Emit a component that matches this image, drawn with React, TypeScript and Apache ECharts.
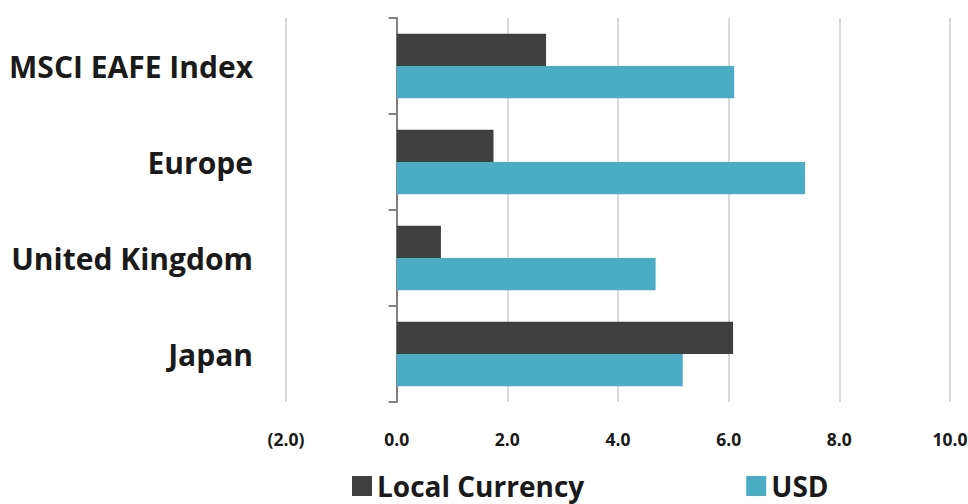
import React, { useEffect, useRef } from "react";
import * as echarts from "echarts";

const categories = ["MSCI EAFE Index", "Europe", "United Kingdom", "Japan"];
const localCurrency = [2.7, 1.75, 0.8, 6.08];
const usd = [6.1, 7.38, 4.68, 5.17];
const seriesNames = ["Local Currency", "USD"];

const FONT = "'Open Sans', 'Noto Sans', sans-serif";

export default function App() {
  const ref = useRef<HTMLDivElement>(null);
  useEffect(() => {
    if (!ref.current) return;
    const chart = echarts.init(ref.current, undefined, { renderer: "svg" });
    chart.setOption({
      animation: false,
      textStyle: { fontFamily: FONT },
      grid: { left: 286, right: 18, top: 18, bottom: 102, containLabel: false, outerBoundsMode: "none" },
      legend: {
        data: seriesNames,
        left: 347,
        top: 466,
        itemWidth: 20,
        itemHeight: 20,
        itemGap: 162,
        icon: "rect",
        textStyle: { fontSize: 28, fontWeight: "bold", color: "#1a1a1a", fontFamily: FONT, lineHeight: 30 },
      },
      xAxis: {
        type: "value",
        min: -2,
        max: 10,
        interval: 2,
        axisLine: { show: false },
        axisTick: { show: false },
        splitLine: { lineStyle: { color: "#d9d9d9", width: 2 } },
        axisLabel: {
          margin: 28,
          fontSize: 17.5,
          fontWeight: "bold",
          color: "#1a1a1a",
          fontFamily: FONT,
          formatter: (v: number) => (v < 0 ? `(${Math.abs(v).toFixed(1)})` : v.toFixed(1)),
        },
      },
      yAxis: {
        type: "category",
        data: categories,
        inverse: true,
        axisLine: { onZero: true, lineStyle: { color: "#808080", width: 2 } },
        axisTick: { show: true, length: 8, lineStyle: { color: "#808080", width: 2 } },
        axisLabel: {
          margin: 33,
          fontSize: 30,
          fontWeight: "bold",
          color: "#1a1a1a",
          fontFamily: FONT,
        },
        splitLine: { show: false },
      },
      series: [
        {
          name: seriesNames[0],
          type: "bar",
          data: localCurrency,
          itemStyle: { color: "#404040" },
          barGap: "0%",
          barCategoryGap: "33%",
        },
        {
          name: seriesNames[1],
          type: "bar",
          data: usd,
          itemStyle: { color: "#4BACC6" },
          barGap: "0%",
          barCategoryGap: "33%",
        },
      ],
    });
    return () => chart.dispose();
  }, []);
  return (
    <div
      ref={ref}
      style={{ position: "fixed", left: 0, top: 0, width: 968, height: 504, background: "#fff" }}
    />
  );
}
